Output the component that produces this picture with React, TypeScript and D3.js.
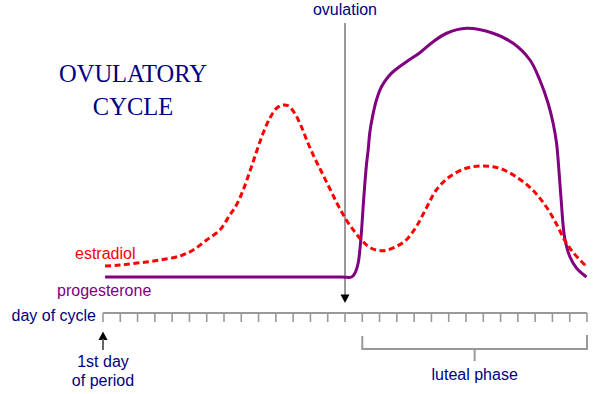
import React from "react";
import * as d3 from "d3";

const W = 600;
const H = 394;

// Cycle days on the axis (0 = 1st day of period)
const dayTicks: number[] = [0,1,2,3,4,5,6,7,8,9,10,11,12,13,14,15,16,17,18,19,20,21,22,23,24,25,26,27,28];
const ovulationDay = 14;
const lutealStart = 15;
const lutealEnd = 28;

// Estradiol (relative level 0–100)
const estradiolDays: number[] = [0.12, 0.98, 2.14, 3.29, 4.45, 5.22, 5.99, 6.76, 7.34, 7.72, 8.11, 8.49, 8.88, 9.26, 9.65, 10.04, 10.42, 10.71, 11.09, 11.48, 11.86, 12.25, 12.64, 13.11, 13.59, 14.08, 14.56, 15.04, 15.52, 16.19, 16.87, 17.54, 18.12, 18.7, 19.28, 20.05, 21.01, 21.98, 22.94, 23.9, 24.86, 25.64, 26.21, 26.7, 27.2, 27.94];
const estradiolLevels: number[] = [4.4, 4.8, 5.7, 6.8, 8.4, 10.8, 14.8, 18.8, 24.8, 28.8, 34.8, 42.1, 50.1, 57.5, 63.5, 67.5, 68.8, 68.5, 65.5, 60.1, 53.5, 47.5, 42.1, 35.5, 28.8, 22.8, 18.1, 14.1, 11.5, 10.5, 11.9, 14.8, 20.1, 27.5, 34.8, 40.1, 43.5, 44.4, 43.5, 40.1, 34.8, 28.1, 21.5, 14.8, 9.8, 4.4];

// Progesterone (relative level 0–100)
const progesteroneDays: number[] = [0.12, 3, 6, 9, 12, 13.8, 14.38, 14.57, 14.76, 14.86, 14.96, 15.05, 15.15, 15.25, 15.34, 15.43, 15.59, 15.82, 16.11, 16.5, 16.78, 17.56, 18.33, 19.1, 19.88, 21.03, 22.57, 23.73, 24.7, 25.27, 25.75, 26.04, 26.24, 26.33, 26.43, 26.53, 26.62, 26.72, 27.01, 27.4, 27.97];
const progesteroneLevels: number[] = [0, 0, 0, 0, 0, 0, 0, 1.5, 5.5, 10.8, 18.8, 28.1, 37.5, 45.5, 50.8, 57.5, 64.1, 70.8, 76.1, 80.1, 82.1, 86.1, 89.7, 94.1, 97.5, 99.5, 97.5, 93.5, 86.8, 78.8, 69.5, 61.5, 53.5, 46.8, 37.6, 28.5, 20.5, 15.2, 8.1, 3.5, 0];

const NAVY = "#000080";
const SANS = "'Liberation Sans', Arial, Helvetica, sans-serif";
const SERIF = "'Liberation Serif', 'Times New Roman', serif";
const FS = 16;

export default function App() {
  const x = d3.scaleLinear().domain([0, 28]).range([103, 587]);
  const y = d3.scaleLinear().domain([0, 100]).range([277, 27]);
  const axisY = 313;
  const tickLen = 9;

  const line = d3
    .line<[number, number]>()
    .x((d) => x(d[0]))
    .y((d) => y(d[1]))
    .curve(d3.curveCatmullRom.alpha(0.5));

  const estradiol = estradiolDays.map((d, i) => [d, estradiolLevels[i]] as [number, number]);
  const progesterone = progesteroneDays.map((d, i) => [d, progesteroneLevels[i]] as [number, number]);

  const ox = x(ovulationDay);
  const px = x(0);
  const lx0 = x(lutealStart);
  const lx1 = x(lutealEnd);
  const lmid = (lx0 + lx1) / 2;

  return (
    <svg
      width={W}
      height={H}
      style={{ position: "absolute", left: 0, top: 0, background: "#fff" }}
    >
      {/* Title */}
      <text x={133} y={82} textAnchor="middle" fontFamily={SERIF} fontSize={24.5} fill={NAVY}>
        OVULATORY
      </text>
      <text x={133} y={115} textAnchor="middle" fontFamily={SERIF} fontSize={24.5} fill={NAVY}>
        CYCLE
      </text>

      {/* Ovulation marker */}
      <text x={ox} y={15} textAnchor="middle" fontFamily={SANS} fontSize={FS} fill={NAVY}>
        ovulation
      </text>
      <line x1={ox} x2={ox} y1={23} y2={296} stroke="#999" strokeWidth={2} />
      <path d={`M${ox - 4.5},${294.5}L${ox + 4.5},${294.5}L${ox},${303}Z`} fill="#000" />

      {/* Curves */}
      <path d={line(progesterone) || ""} fill="none" stroke="#800080" strokeWidth={3} strokeLinejoin="round" />
      <path d={line(estradiol) || ""} fill="none" stroke="#ff0000" strokeWidth={3} strokeDasharray="6,3.5" />

      {/* Series labels */}
      <text x={75} y={259} fontFamily={SANS} fontSize={FS} fill="#ff0000">
        estradiol
      </text>
      <text x={57} y={296} fontFamily={SANS} fontSize={FS} fill="#800080">
        progesterone
      </text>

      {/* Day axis */}
      <text x={96} y={321} textAnchor="end" fontFamily={SANS} fontSize={FS} fill={NAVY}>
        day of cycle
      </text>
      <line x1={x(0)} x2={x(28)} y1={axisY} y2={axisY} stroke="#999" strokeWidth={2} />
      {dayTicks.map((d) => (
        <line key={d} x1={x(d)} x2={x(d)} y1={axisY} y2={axisY + tickLen} stroke="#999" strokeWidth={1.6} />
      ))}

      {/* 1st day of period */}
      <path d={`M${px - 4.5},${340}L${px + 4.5},${340}L${px},${331.5}Z`} fill="#000" />
      <line x1={px} x2={px} y1={339} y2={350} stroke="#666" strokeWidth={2} />
      <text x={px} y={367} textAnchor="middle" fontFamily={SANS} fontSize={FS} fill={NAVY}>
        1st day
      </text>
      <text x={px} y={386} textAnchor="middle" fontFamily={SANS} fontSize={FS} fill={NAVY}>
        of period
      </text>

      {/* Luteal phase bracket */}
      <path
        d={`M${lx0},336V349H${lx1}V335`}
        fill="none"
        stroke="#999"
        strokeWidth={2}
      />
      <line x1={lmid} x2={lmid} y1={349} y2={361} stroke="#999" strokeWidth={2} />
      <text x={lmid} y={380} textAnchor="middle" fontFamily={SANS} fontSize={FS} fill={NAVY}>
        luteal phase
      </text>
    </svg>
  );
}
